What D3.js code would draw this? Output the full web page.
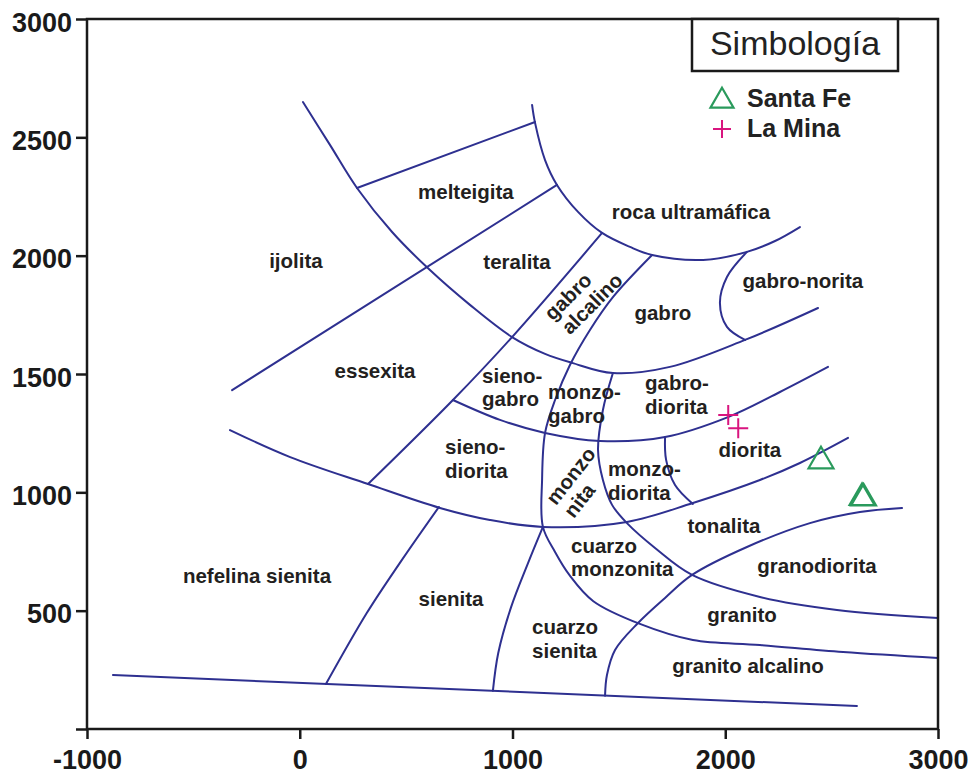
<!DOCTYPE html>
<html>
<head>
<meta charset="utf-8">
<script src="https://cdn.jsdelivr.net/npm/d3@7"></script>
<style>
  body { margin: 0; background: #fff; }
  svg { display: block; }
  text { font-family: Arial, "Liberation Sans", Helvetica, sans-serif; }
</style>
</head>
<body>
<svg id="chart" width="973" height="777"></svg>
<script>
// ---- Axis ticks ----
const xTickValues = [-1000, 0, 1000, 2000, 3000];
const xTickLabels = ["-1000", "0", "1000", "2000", "3000"];
const yTickValues = [0, 500, 1000, 1500, 2000, 2500, 3000];
const yTickLabels = ["", "500", "1000", "1500", "2000", "2500", "3000"];

// ---- Field boundaries (R1, R2) ----
const lineBase = [[-878, 228], [2619, 97]];
const lineIjolitaArc = [[15, 2649], [142, 2468], [269, 2286], [434, 2100], [612, 1939], [800, 1792],
  [998, 1656], [1153, 1585], [1280, 1547], [1472, 1504], [1740, 1530], [2093, 1644], [2436, 1779]];
const lineMelteigitaTop = [[269, 2286], [1106, 2565]];
const lineUltramafic = [[1092, 2637], [1106, 2561], [1153, 2404], [1209, 2299], [1308, 2185], [1421, 2096],
  [1552, 2037], [1656, 2003], [1896, 1982], [2102, 2016], [2234, 2062], [2351, 2121]];
const lineTeralita = [[1209, 2299], [-318, 1432]];
const lineAlkaliGabro = [[1421, 2096], [998, 1656], [720, 1390], [321, 1035]];
const lineMonzonite = [[1656, 2003], [1472, 1825], [1364, 1686], [1270, 1538], [1200, 1390], [1153, 1251],
  [1139, 1052], [1143, 854], [1200, 748], [1268, 650], [1380, 540], [1599, 444], [1848, 376],
  [2163, 355], [2554, 325], [3000, 300]];
const lineMonzodiorite = [[1472, 1504], [1425, 1348], [1402, 1179], [1425, 1052], [1468, 947], [1538, 870],
  [1670, 765], [1844, 651], [2163, 558], [2525, 503], [3000, 469]];
const lineGabbroDiorite = [[720, 1390], [941, 1306], [1153, 1251], [1411, 1217], [1717, 1234],
  [2013, 1318], [2257, 1424], [2483, 1530]];
const lineDioriteSplit = [[1717, 1234], [1722, 1137], [1764, 1031], [1848, 951]];
const lineSyenodiorite = [[-328, 1263], [-45, 1149], [321, 1035], [659, 934], [894, 883], [1143, 854],
  [1538, 875], [1848, 955], [2163, 1052], [2351, 1124], [2577, 1230]];
const lineNephelineSyenite = [[654, 938], [470, 701], [315, 490], [123, 190]];
const lineSyenite = [[1143, 854], [1073, 701], [993, 514], [933, 321], [908, 162]];
const lineGranodiorite = [[1435, 141], [1444, 228], [1482, 334], [1590, 448], [1717, 554], [1844, 651],
  [2102, 769], [2398, 870], [2633, 917], [2831, 934]];
const lineGabbroNorite = [[2102, 2016], [2008, 1910], [1975, 1800], [2008, 1699], [2093, 1644]];

const boundaries = [lineBase, lineIjolitaArc, lineMelteigitaTop, lineUltramafic, lineTeralita,
  lineAlkaliGabro, lineMonzonite, lineMonzodiorite, lineGabbroDiorite, lineDioriteSplit,
  lineSyenodiorite, lineNephelineSyenite, lineSyenite, lineGranodiorite, lineGabbroNorite];

// ---- Field names ----
const fieldNames = ["melteigita", "roca ultramáfica", "ijolita", "teralita", "gabro", "gabro-norita",
  "essexita", "diorita", "tonalita", "granodiorita", "granito", "granito alcalino", "sienita",
  "nefelina sienita"];
const fieldR1 = [781, 1839, -18, 1021, 1707, 2365, 354, 2116, 1994, 2431, 2079, 2107, 711, -201];
const fieldR2 = [2269, 2185, 1977, 1973, 1758, 1893, 1513, 1179, 858, 689, 482, 266, 549, 646];

// two-line names, left aligned
const stackedNames = [["sieno-", "gabro"], ["monzo-", "gabro"], ["gabro-", "diorita"],
  ["sieno-", "diorita"], ["monzo-", "diorita"], ["cuarzo", "monzonita"], ["cuarzo", "sienita"]];
const stackedR1 = [857, 1167, 1623, 683, 1449, 1275, 1092];
const stackedR2 = [1441, 1371, 1409, 1139, 1046, 723, 380];

// slanted names
const slantedNames = [["gabro", "alcalino"], ["monzo", "nita"]];
const slantedR1 = [1317, 1294];
const slantedR2 = [1813, 1018];
const slantedAngle = [-45, -52];
const slantedShift = [[-6, 6], [7, -7]];

// ---- Samples ----
const santaFeR1 = [2450, 2643, 2650];
const santaFeR2 = [1132, 977, 975];
const laMinaR1 = [2014, 2061];
const laMinaR2 = [1327, 1271];

const lineColor = "#2e3090";
const textColor = "#231f20";
const greenColor = "#2a9a5c";
const magentaColor = "#d9157f";

const svg = d3.select("#chart");
const plotLeft = 87, plotRight = 938, plotTop = 19, plotBottom = 729;

const x = d3.scaleLinear().domain([-1000, 3000]).range([plotLeft, plotRight]);
const y = d3.scaleLinear().domain([0, 3000]).range([plotBottom, plotTop]);

// boundaries
const path = d3.line().x(d => x(d[0])).y(d => y(d[1])).curve(d3.curveCatmullRom.alpha(0.5));
svg.append("g")
  .selectAll("path")
  .data(boundaries)
  .join("path")
  .attr("d", path)
  .attr("fill", "none")
  .attr("stroke", lineColor)
  .attr("stroke-width", 2)
  .attr("stroke-linejoin", "round")
  .attr("stroke-linecap", "round");

// frame
svg.append("rect")
  .attr("x", plotLeft).attr("y", plotTop)
  .attr("width", plotRight - plotLeft).attr("height", plotBottom - plotTop)
  .attr("fill", "none").attr("stroke", "#1a1a1a").attr("stroke-width", 2.5);

// axes
const xAxis = d3.axisBottom(x).tickValues(xTickValues).tickFormat((d, i) => xTickLabels[i])
  .tickSize(10).tickSizeOuter(0).tickPadding(6);
const gx = svg.append("g").attr("transform", `translate(0,${plotBottom})`).call(xAxis);
gx.select(".domain").remove();
gx.selectAll("line").attr("stroke", "#1a1a1a").attr("stroke-width", 2.5);
gx.selectAll("text").attr("fill", "#1a1a1a").style("font-size", "27px").style("font-weight", "bold")
  .attr("dy", "0.9em");

const yAxis = d3.axisLeft(y).tickValues(yTickValues).tickFormat((d, i) => yTickLabels[i])
  .tickSize(11).tickSizeOuter(0).tickPadding(4);
const gy = svg.append("g").attr("transform", `translate(${plotLeft},0)`).call(yAxis);
gy.select(".domain").remove();
gy.selectAll("line").attr("stroke", "#1a1a1a").attr("stroke-width", 2.5);
gy.selectAll("text").attr("fill", "#1a1a1a").style("font-size", "27px").style("font-weight", "bold")
  .attr("dy", "0.45em");

// field names
const labels = svg.append("g").attr("fill", textColor)
  .style("font-size", "20.5px").style("font-weight", "bold");

labels.selectAll("text.single")
  .data(fieldNames)
  .join("text")
  .attr("class", "single")
  .attr("x", (d, i) => x(fieldR1[i]))
  .attr("y", (d, i) => y(fieldR2[i]))
  .attr("dy", "0.35em")
  .attr("text-anchor", "middle")
  .text(d => d);

stackedNames.forEach((pair, i) => {
  const t = labels.append("text")
    .attr("x", x(stackedR1[i]))
    .attr("y", y(stackedR2[i]))
    .attr("text-anchor", "start");
  pair.forEach((s, j) => {
    t.append("tspan")
      .attr("x", x(stackedR1[i]))
      .attr("dy", j === 0 ? "-0.25em" : "1.15em")
      .text(s);
  });
});

slantedNames.forEach((pair, i) => {
  const g = labels.append("g")
    .attr("transform", `translate(${x(slantedR1[i])},${y(slantedR2[i])}) rotate(${slantedAngle[i]})`);
  pair.forEach((s, j) => {
    g.append("text")
      .attr("x", slantedShift[i][j])
      .attr("y", j === 0 ? -11 : 11)
      .attr("dy", "0.35em")
      .attr("text-anchor", "middle")
      .text(s);
  });
});

// samples
const tri = d3.symbol().type(d3.symbolTriangle).size(270);
svg.append("g")
  .selectAll("path")
  .data(santaFeR1)
  .join("path")
  .attr("transform", (d, i) => `translate(${x(d)},${y(santaFeR2[i])})`)
  .attr("d", tri)
  .attr("fill", "none")
  .attr("stroke", greenColor)
  .attr("stroke-width", 2.2);

const plus = (cx, cy, r) => `M${cx - r},${cy}H${cx + r}M${cx},${cy - r}V${cy + r}`;
svg.append("g")
  .selectAll("path")
  .data(laMinaR1)
  .join("path")
  .attr("d", (d, i) => plus(x(d), y(laMinaR2[i]), 10))
  .attr("fill", "none")
  .attr("stroke", magentaColor)
  .attr("stroke-width", 2);

// legend
const legend = svg.append("g");
legend.append("rect")
  .attr("x", 692).attr("y", plotTop).attr("width", 206).attr("height", 52)
  .attr("fill", "#fff").attr("stroke", "#1a1a1a").attr("stroke-width", 2.5);
legend.append("text")
  .attr("x", 795).attr("y", 55)
  .attr("text-anchor", "middle")
  .attr("fill", "#222")
  .style("font-size", "34px")
  .text("Simbología");
legend.append("path")
  .attr("transform", "translate(722,101)")
  .attr("d", d3.symbol().type(d3.symbolTriangle).size(230))
  .attr("fill", "none").attr("stroke", greenColor).attr("stroke-width", 2.2);
legend.append("path")
  .attr("d", plus(722, 129, 9))
  .attr("fill", "none").attr("stroke", magentaColor).attr("stroke-width", 2);
legend.append("text")
  .attr("x", 747).attr("y", 107)
  .attr("fill", "#222").style("font-size", "25px").style("font-weight", "bold")
  .text("Santa Fe");
legend.append("text")
  .attr("x", 747).attr("y", 137)
  .attr("fill", "#222").style("font-size", "25px").style("font-weight", "bold")
  .text("La Mina");
</script>
</body>
</html>
